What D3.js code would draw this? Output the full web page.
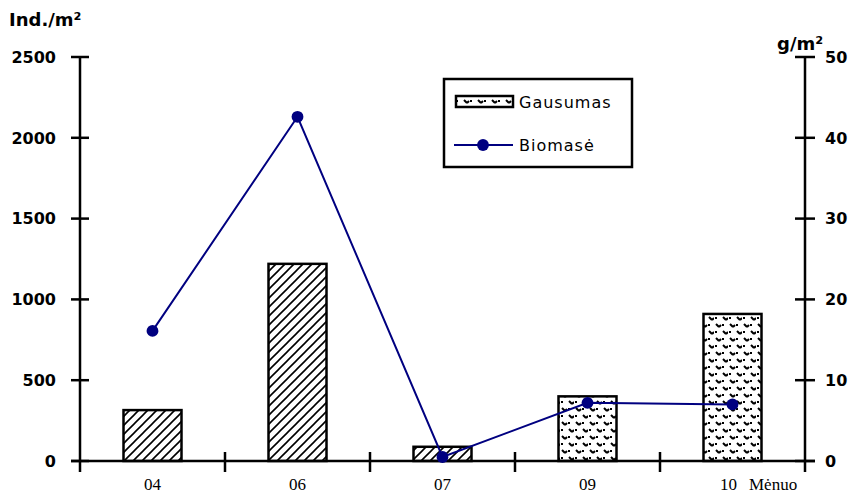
<!DOCTYPE html>
<html><head><meta charset="utf-8">
<script src="https://cdn.jsdelivr.net/npm/d3@7"></script>
<style>body{margin:0;background:#fff}svg{display:block}</style>
</head><body>
<svg id="c" width="854" height="495"></svg>
<script>
const months = ["04","06","07","09","10"];
const abundance = [315, 1220, 88, 400, 910];
const biomass = [16.1, 42.6, 0.5, 7.2, 7.0];
const patternOf = ["hatch","hatch","hatch","cross","cross"];
const leftTicks = [0,500,1000,1500,2000,2500];
const rightTicks = [0,10,20,30,40,50];
const labels = {left:"Ind./m²", right:"g/m²", x:"Mėnuo", bars:"Gausumas", line:"Biomasė"};

const svg = d3.select("#c");
const L = 80, R = 805, T = 57, B = 461;
const x = d3.scaleBand().domain(months).range([L, R]).paddingInner(0.6).paddingOuter(0.3);
const xb = d3.scaleBand().domain(months).range([L, R]);
const yL = d3.scaleLinear().domain([0,2500]).range([B, T]);
const yR = d3.scaleLinear().domain([0,50]).range([B, T]);
const navy = "#000080";

const defs = svg.append("defs");
const h = defs.append("pattern").attr("id","hatch").attr("patternUnits","userSpaceOnUse").attr("width",9).attr("height",9);
h.append("rect").attr("width",9).attr("height",9).attr("fill","#fff");
h.append("path").attr("d","M-1,10 L10,-1 M-2,2 L2,-2 M7,11 L11,7").attr("stroke","#000").attr("stroke-width",1.6);
const cp = defs.append("pattern").attr("id","cross").attr("patternUnits","userSpaceOnUse").attr("width",14).attr("height",14);
cp.append("rect").attr("width",14).attr("height",14).attr("fill","#fff");
cp.append("path").attr("d","M2,2 L5,5 M5,5 L7,3 M9,9 L12,12 M12,12 L14,10").attr("stroke","#000").attr("stroke-width",2);
cp.append("rect").attr("x",1).attr("y",9).attr("width",2).attr("height",2).attr("fill","#000");
cp.append("rect").attr("x",8).attr("y",2).attr("width",2).attr("height",2).attr("fill","#000");

// bars
svg.append("g").selectAll("rect").data(months).join("rect")
  .attr("x", d => x(d))
  .attr("y", (d,i) => yL(abundance[i]))
  .attr("width", x.bandwidth())
  .attr("height", (d,i) => B - yL(abundance[i]))
  .attr("fill", (d,i) => `url(#${patternOf[i]})`)
  .attr("stroke","#000").attr("stroke-width",2.5);

// axes
const tickFont = "bold 16px 'DejaVu Sans', sans-serif";
const unitFont = "bold 18px 'DejaVu Sans', sans-serif";
const legFont = "16px 'DejaVu Sans', sans-serif";
const ax = svg.append("g").attr("stroke","#000").attr("stroke-width",2.5);
ax.append("line").attr("x1",L).attr("x2",L).attr("y1",T).attr("y2",B+11);
ax.append("line").attr("x1",R).attr("x2",R).attr("y1",T).attr("y2",B+11);
ax.append("line").attr("x1",L-9).attr("x2",R+10).attr("y1",B).attr("y2",B);
ax.selectAll(".lt").data(leftTicks).join("line").attr("x1",L-9).attr("x2",L+9).attr("y1",d=>yL(d)).attr("y2",d=>yL(d));
ax.selectAll(".rt").data(rightTicks).join("line").attr("x1",R-10).attr("x2",R+10).attr("y1",d=>yR(d)).attr("y2",d=>yR(d));
ax.selectAll(".xt").data(months.slice(1)).join("line").attr("x1",d=>xb(d)).attr("x2",d=>xb(d)).attr("y1",B-9).attr("y2",B+11);

svg.append("g").selectAll("text").data(leftTicks).join("text")
  .attr("x",56).attr("y",d=>yL(d)).attr("dy","0.36em").attr("text-anchor","end")
  .style("font",tickFont).text(d=>d);
svg.append("g").selectAll("text").data(rightTicks).join("text")
  .attr("x",825).attr("y",d=>yR(d)).attr("dy","0.36em").attr("text-anchor","start")
  .style("font",tickFont).text(d=>d);
svg.append("g").selectAll("text").data(months).join("text")
  .attr("x",d=>xb(d)+xb.bandwidth()/2 - (d==="10"?4:0)).attr("y",490).attr("text-anchor","middle")
  .style("font","17px 'Liberation Serif', serif").text(d=>d);
svg.append("text").attr("x",749).attr("y",490).style("font","17px 'Liberation Serif', serif").text(labels.x);
svg.append("text").attr("x",9).attr("y",26).style("font",unitFont).text(labels.left);
svg.append("text").attr("x",777).attr("y",50).style("font",unitFont).text(labels.right);

// line
const cx = d => xb(d)+xb.bandwidth()/2;
svg.append("path").datum(months)
  .attr("d", d3.line().x(cx).y((d,i)=>yR(biomass[i])))
  .attr("fill","none").attr("stroke",navy).attr("stroke-width",2);
svg.append("g").selectAll("path").data(months).join("path")
  .attr("transform",(d,i)=>`translate(${cx(d)},${yR(biomass[i])})`)
  .attr("d", d3.symbol(d3.symbolCircle, 110)).attr("fill",navy);

// legend
const lg = svg.append("g");
lg.append("rect").attr("x",444).attr("y",79).attr("width",188).attr("height",88).attr("fill","#fff").attr("stroke","#000").attr("stroke-width",2.5);
lg.append("rect").attr("x",456).attr("y",96).attr("width",57).attr("height",11).attr("fill","url(#cross)").attr("stroke","#000").attr("stroke-width",2.5);
lg.append("text").attr("x",519).attr("y",102).attr("dy","0.36em").style("font",legFont).style("letter-spacing","1px").text(labels.bars);
lg.append("line").attr("x1",454).attr("x2",513).attr("y1",145).attr("y2",145).attr("stroke",navy).attr("stroke-width",2);
lg.append("path").attr("transform","translate(483,145)").attr("d",d3.symbol(d3.symbolCircle,110)).attr("fill",navy);
lg.append("text").attr("x",519).attr("y",145).attr("dy","0.36em").style("font",legFont).style("letter-spacing","1px").text(labels.line);
</script>
</body></html>
